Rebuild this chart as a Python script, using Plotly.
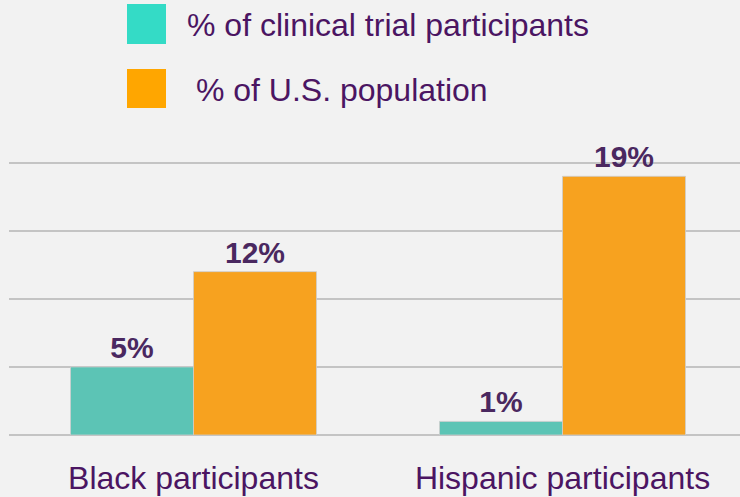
import plotly.graph_objects as go

categories = ["Black participants", "Hispanic participants"]
series_names = ["% of clinical trial participants", "% of U.S. population"]
trial_pct = [5, 1]
population_pct = [12, 19]

bar_colors = ["#5cc4b5", "#f7a21f"]
legend_colors = ["#34dbc6", "#ffa600"]
purple = "#4b1562"
label_color = "#4a2860"
bg = "#f2f2f2"

W, H = 740, 497
L, R, T, B = 9, 0, 160, 62
pw, ph = W - L - R, H - T - B

def px_x(p):
    return (p - L) / pw

def px_y(p):
    return (H - B - p) / ph

fig = go.Figure()
for name, vals, col in zip(series_names, [trial_pct, population_pct], bar_colors):
    fig.add_trace(go.Bar(
        x=categories, y=vals, name=name,
        marker=dict(color=col, line=dict(color="rgba(205,205,205,0.8)", width=1)),
        texttemplate="<b>%{y}%</b>", textposition="outside",
        textfont=dict(family="Liberation Sans, Arial, sans-serif", size=30, color=label_color),
        cliponaxis=False, showlegend=False, hoverinfo="skip",
    ))

shapes = []
annotations = []
legend_rows = [(4, 44, 185), (69, 108, 185)]
for (y0, y1, tx), name, col in zip(legend_rows, series_names, legend_colors):
    shapes.append(dict(type="rect", xref="paper", yref="paper",
                       x0=px_x(127), x1=px_x(166), y0=px_y(y1), y1=px_y(y0),
                       fillcolor=col, line=dict(width=0)))
    annotations.append(dict(xref="paper", yref="paper", x=px_x(tx), y=px_y((y0 + y1) / 2 + 1),
                            xanchor="left", yanchor="middle", showarrow=False,
                            text=(" " if name.startswith("% of U") else "") + name,
                            font=dict(family="Liberation Sans, Arial, sans-serif", size=32, color=purple)))

fig.update_layout(
    width=W, height=H,
    margin=dict(l=L, r=R, t=T, b=B, pad=0),
    paper_bgcolor=bg, plot_bgcolor=bg,
    barmode="group", bargap=1/3, bargroupgap=0,
    shapes=shapes, annotations=annotations,
    xaxis=dict(type="category", range=[-0.5, 1.481], showgrid=False, zeroline=False,
               showline=False, ticks="", ticklabelstandoff=21,
               tickfont=dict(family="Liberation Sans, Arial, sans-serif", size=32, color=purple)),
    yaxis=dict(range=[0, 20.2], tickvals=[0, 5, 10, 15, 20], showticklabels=False,
               showgrid=True, gridcolor="#c4c4c4", gridwidth=1.5,
               zeroline=True, zerolinecolor="#c4c4c4", zerolinewidth=1.5, showline=False),
)

fig.write_html("out.html", config={"displayModeBar": False},
               post_script="document.body.style.margin='0';document.body.style.background='#f2f2f2';")
